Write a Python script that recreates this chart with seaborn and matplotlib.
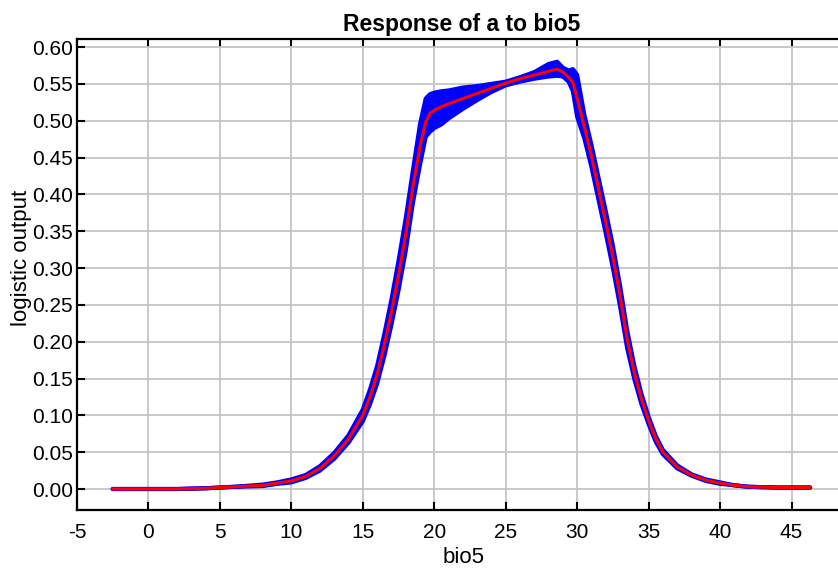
import numpy as np
import pandas as pd
import matplotlib
matplotlib.use("Agg")
import matplotlib.pyplot as plt
import seaborn as sns

# values (Maxent response curve, mean +/- sd)
bio5 = [-2.5, 0, 2, 4, 6, 8, 9, 10, 11, 12, 13, 14, 15, 15.5, 16, 16.5, 17, 17.5,
        18, 18.5, 19, 19.4, 19.7, 20, 20.5, 21, 22, 23, 24, 25, 26, 27, 28, 28.6,
        29, 29.4, 29.7, 30, 30.5, 31, 31.5, 32, 32.5, 33, 33.5, 34, 34.5, 35, 35.5,
        36, 37, 38, 39, 40, 41, 42, 44, 46.3]
mean = [0.000, 0.000, 0.000, 0.001, 0.003, 0.005, 0.008, 0.011, 0.017, 0.028, 0.045,
        0.068, 0.100, 0.125, 0.155, 0.195, 0.240, 0.290, 0.345, 0.410, 0.465, 0.498,
        0.510, 0.514, 0.519, 0.523, 0.530, 0.537, 0.544, 0.551, 0.557, 0.562, 0.567,
        0.570, 0.566, 0.559, 0.552, 0.530, 0.492, 0.452, 0.407, 0.362, 0.315, 0.262,
        0.203, 0.158, 0.122, 0.093, 0.068, 0.050, 0.030, 0.019, 0.012, 0.008, 0.005,
        0.003, 0.002, 0.002]
upper = [0.000, 0.000, 0.000, 0.001, 0.003, 0.006, 0.009, 0.013, 0.019, 0.031, 0.049,
         0.073, 0.108, 0.135, 0.167, 0.210, 0.257, 0.310, 0.367, 0.432, 0.495, 0.530,
         0.536, 0.538, 0.540, 0.541, 0.545, 0.547, 0.550, 0.553, 0.559, 0.566, 0.577,
         0.580, 0.572, 0.568, 0.570, 0.562, 0.508, 0.467, 0.422, 0.377, 0.330, 0.276,
         0.215, 0.167, 0.129, 0.098, 0.072, 0.053, 0.032, 0.020, 0.013, 0.009, 0.005,
         0.003, 0.002, 0.002]
lower = [0.000, 0.000, 0.000, 0.001, 0.003, 0.004, 0.007, 0.009, 0.015, 0.025, 0.041,
         0.063, 0.092, 0.115, 0.143, 0.180, 0.223, 0.270, 0.323, 0.388, 0.440, 0.478,
         0.485, 0.490, 0.495, 0.503, 0.516, 0.528, 0.539, 0.548, 0.553, 0.557, 0.560,
         0.561, 0.560, 0.553, 0.540, 0.505, 0.476, 0.437, 0.392, 0.347, 0.300, 0.248,
         0.191, 0.149, 0.115, 0.088, 0.064, 0.047, 0.028, 0.018, 0.011, 0.007, 0.005,
         0.003, 0.002, 0.002]

df = pd.DataFrame({"bio5": bio5, "mean": mean, "upper": upper, "lower": lower})

sns.set_style("whitegrid")
plt.rcParams["font.family"] = ["Liberation Sans", "DejaVu Sans"]
plt.rcParams["text.color"] = "black"
plt.rcParams["axes.labelcolor"] = "black"

fig = plt.figure(figsize=(8.38, 5.70), dpi=100)
ax = fig.add_axes([77 / 838, 60 / 570, 761 / 838, 470.7 / 570])

blue = "#0000ff"
ax.fill_between(df["bio5"], df["lower"], df["upper"], color=blue, lw=0, zorder=2)
sns.lineplot(data=df, x="bio5", y="upper", color=blue, lw=3, ax=ax, zorder=2)
sns.lineplot(data=df, x="bio5", y="lower", color=blue, lw=3, ax=ax, zorder=2)
sns.lineplot(data=df, x="bio5", y="mean", color="#ff0000", lw=2.2, ax=ax, zorder=3)

ax.set_xlim(-5, 48.25)
ax.set_ylim(-0.0285, 0.6105)
ax.set_xticks(np.arange(-5, 50, 5))
ax.set_yticks(np.arange(0, 0.61, 0.05))
ax.set_xticklabels([str(v) for v in range(-5, 50, 5)])
ax.set_yticklabels([f"{v:.2f}" for v in np.arange(0, 0.61, 0.05)])

ax.grid(True, color="#c4c4c4", lw=1.3)
ax.set_axisbelow(True)
for side in ["left", "top", "bottom"]:
    ax.spines[side].set_color("black")
    ax.spines[side].set_linewidth(1.6)
ax.spines["right"].set_visible(False)
ax.tick_params(axis="both", direction="in", length=6, width=1.5, color="black",
               labelsize=15, labelcolor="black", top=True, bottom=True,
               left=True, right=False)
ax.tick_params(axis="y", pad=3)
ax.tick_params(axis="x", labeltop=False, pad=9)

ax.set_title("Response of a to bio5", fontsize=16.5, fontweight="bold", pad=6,
             color="black", x=0.505)
ax.set_xlabel("bio5", fontsize=16)
ax.xaxis.set_label_coords(0.508, -0.079)
ax.set_ylabel("logistic output", fontsize=16)
ax.yaxis.set_label_coords(-0.0585, 0.535)

fig.savefig("out.png", dpi=100)
